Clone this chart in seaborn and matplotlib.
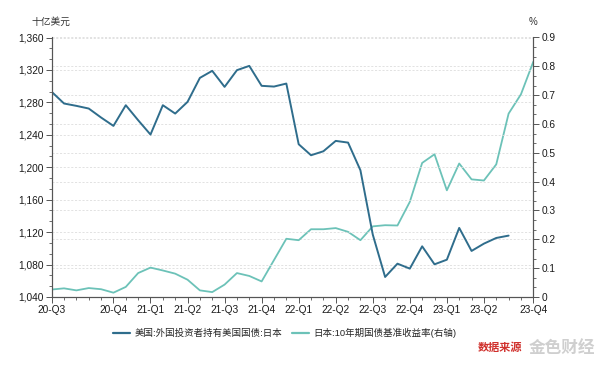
import numpy as np
import pandas as pd
import matplotlib
matplotlib.use('Agg')
import matplotlib.pyplot as plt
import seaborn as sns
from matplotlib.ticker import FuncFormatter, MultipleLocator, AutoMinorLocator
from matplotlib.lines import Line2D

# monthly points, index 0 = first month shown on the axis
holdings = [1293, 1278.6, 1275.7, 1272.4, 1261.3, 1251, 1276.5, 1258, 1240.3, 1276.5,
            1266.2, 1280.6, 1310.2, 1318.9, 1299.1, 1319.7, 1325, 1300.4, 1299.5, 1303.2,
            1228.4, 1214.8, 1219.7, 1232.5, 1230.4, 1196.3, 1117, 1064.7, 1081.1, 1075,
            1102.5, 1080.3, 1086, 1125.2, 1096.8, 1105.8, 1112.8, 1115.7]
jgb10y = [0.026, 0.030, 0.023, 0.031, 0.027, 0.015, 0.035, 0.083, 0.102, 0.092,
          0.081, 0.060, 0.023, 0.017, 0.043, 0.083, 0.073, 0.054, 0.128, 0.202,
          0.197, 0.235, 0.235, 0.239, 0.226, 0.197, 0.245, 0.249, 0.248, 0.33,
          0.465, 0.495, 0.370, 0.463, 0.408, 0.404, 0.460, 0.636, 0.703, 0.816]
tick_pos = [0, 5, 8, 11, 14, 17, 20, 23, 26, 29, 32, 35, 39]
tick_labels = ['20-Q3', '20-Q4', '21-Q1', '21-Q2', '21-Q3', '21-Q4', '22-Q1',
               '22-Q2', '22-Q3', '22-Q4', '23-Q1', '23-Q2', '23-Q4']
name_left = '美国:外国投资者持有美国国债:日本'
name_right = '日本:10年期国债基准收益率(右轴)'

dark = '#2f6d8c'
light = '#6cc2b8'

sns.set_theme(style='white')
plt.rcParams['font.family'] = ['Liberation Sans', 'Noto Sans CJK SC', 'DejaVu Sans']
plt.rcParams['axes.unicode_minus'] = False

df1 = pd.DataFrame({'m': np.arange(len(holdings)), 'v': holdings})
df2 = pd.DataFrame({'m': np.arange(len(jgb10y)), 'v': jgb10y})

fig = plt.figure(figsize=(6, 3.72), dpi=100)
ax = fig.add_axes([51.7 / 600, 1 - 297 / 372, (533.3 - 51.7) / 600, (297 - 37.5) / 372])
ax2 = ax.twinx()

sns.lineplot(data=df1, x='m', y='v', ax=ax, color=dark, lw=1.4)
sns.lineplot(data=df2, x='m', y='v', ax=ax2, color=light, lw=1.3)

ax.set_xlim(0, 39)
ax.set_ylim(1040, 1360)
ax2.set_ylim(0, 0.9)
ax.set_xlabel('')
ax.set_ylabel('')
ax2.set_ylabel('')

ax.set_xticks(tick_pos)
ax.set_xticklabels(tick_labels)
ax.xaxis.set_minor_locator(MultipleLocator(1))
ax.yaxis.set_major_locator(MultipleLocator(40))
ax.yaxis.set_minor_locator(AutoMinorLocator(3))
ax.yaxis.set_major_formatter(FuncFormatter(lambda v, p: f'{v:,.0f}'))
ax2.yaxis.set_major_locator(MultipleLocator(0.1))
ax2.yaxis.set_minor_locator(AutoMinorLocator(3))
ax2.yaxis.set_major_formatter(FuncFormatter(lambda v, p: '0' if abs(v) < 1e-9 else f'{v:.1f}'))

spine_c = '#555555'
for a in (ax, ax2):
    a.spines['top'].set_visible(False)
    for s in ('left', 'right', 'bottom'):
        a.spines[s].set_color(spine_c)
        a.spines[s].set_linewidth(0.8)
    a.tick_params(which='major', length=4, width=0.7, color=spine_c, labelsize=7.3,
                  labelcolor='#1a1a1a', pad=2)
    a.tick_params(which='minor', length=2.5, width=0.6, color=spine_c)
ax.tick_params(axis='x', which='both', bottom=True, direction='out')
ax.tick_params(axis='y', which='both', left=True, direction='out')
ax2.tick_params(axis='y', which='both', right=True, direction='out')

ax.grid(axis='y', which='major', color='#dddddd', ls=(0, (2.5, 2)), lw=0.6)
ax2.grid(axis='y', which='major', color='#dddddd', ls=(0, (2.5, 2)), lw=0.6)
ax.grid(axis='x', visible=False)
ax2.grid(axis='x', visible=False)
ax.set_zorder(ax2.get_zorder() + 1)
ax.patch.set_visible(False)

fig.text(51 / 600, 1 - 22 / 372, '十亿美元', ha='center', va='center', fontsize=7, color='#333333')
fig.text(533 / 600, 1 - 22 / 372, '%', ha='center', va='center', fontsize=7, color='#333333')

handles = [Line2D([], [], color=dark, lw=1.6), Line2D([], [], color=light, lw=1.6)]
fig.legend(handles, [name_left, name_right], loc='center', bbox_to_anchor=(0.475, 1 - 333 / 372),
           ncol=2, frameon=False, fontsize=6.8, handlelength=1.8, handletextpad=0.5,
           columnspacing=1.0)

fig.text(500 / 600, 1 - 348 / 372, '数据来源', ha='center', va='center', fontsize=8,
         color='#d0312d', fontweight='bold')
fig.text(562 / 600, 1 - 348 / 372, '金色财经', ha='center', va='center', fontsize=12,
         color='#cfcfcf', fontweight='bold')

fig.savefig('out.png', dpi=100)
